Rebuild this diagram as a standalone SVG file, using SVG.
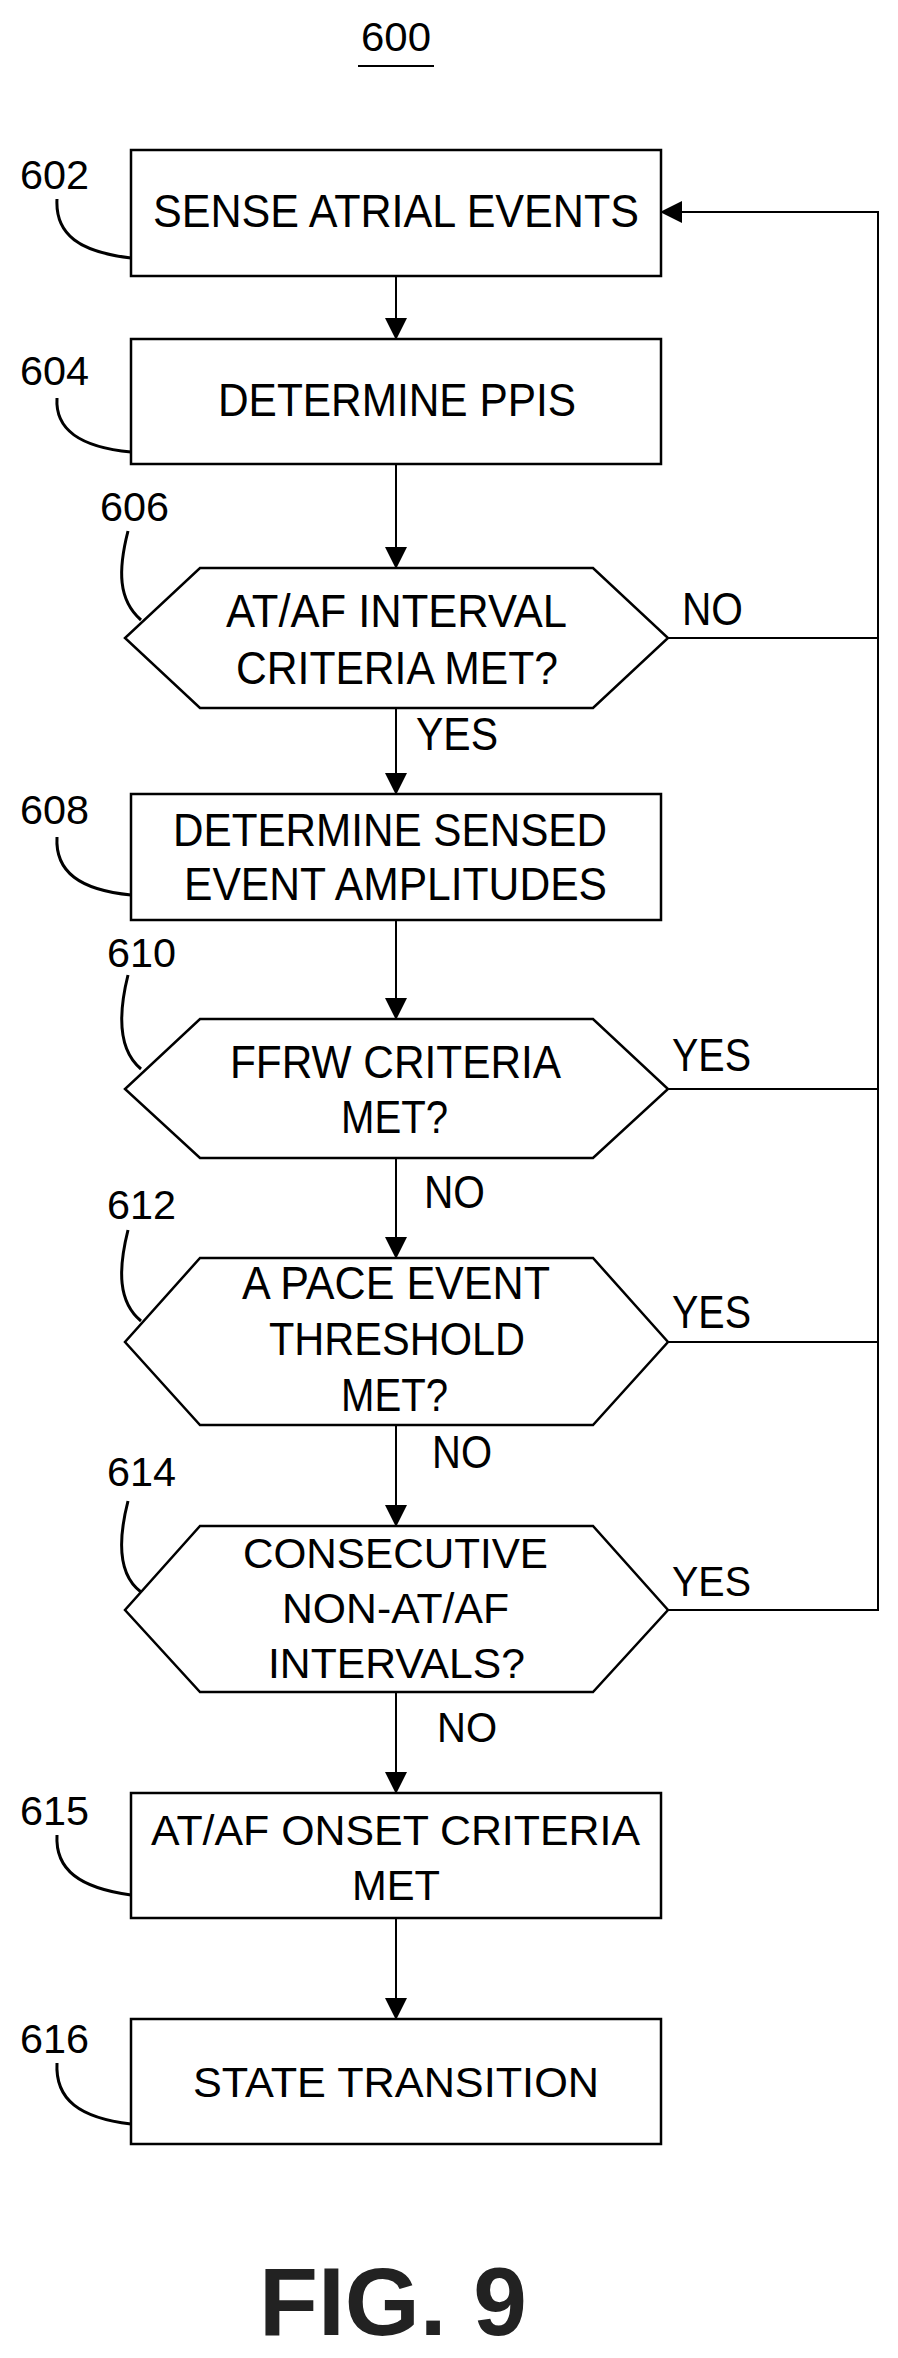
<svg xmlns="http://www.w3.org/2000/svg" width="898" height="2358" viewBox="0 0 898 2358">
<style>
.s{fill:#fff;stroke:#000;stroke-width:2.5}
.c{fill:none;stroke:#000;stroke-width:2}
.l{fill:none;stroke:#000;stroke-width:3}
text{font-family:"Liberation Sans",Arial,sans-serif;fill:#000}
.t{font-size:46px}
.u{font-size:43px}
.n{font-size:40px}
.m{text-anchor:middle}
</style>
<defs><marker id="a" markerWidth="22" markerHeight="22" refX="20" refY="11" orient="auto" markerUnits="userSpaceOnUse"><path d="M0,0 L22,11 L0,22 Z" fill="#000"/></marker></defs>
<rect width="898" height="2358" fill="#fff"/>
<text x="396" y="51" class="n m" textLength="70" lengthAdjust="spacingAndGlyphs">600</text>
<line x1="358" y1="66" x2="434" y2="66" stroke="#000" stroke-width="2"/>
<g id="connectors">
<line class="c" x1="396" y1="276" x2="396" y2="338" marker-end="url(#a)"/>
<line class="c" x1="396" y1="464" x2="396" y2="567" marker-end="url(#a)"/>
<line class="c" x1="396" y1="708" x2="396" y2="793" marker-end="url(#a)"/>
<line class="c" x1="396" y1="920" x2="396" y2="1018" marker-end="url(#a)"/>
<line class="c" x1="396" y1="1158" x2="396" y2="1257" marker-end="url(#a)"/>
<line class="c" x1="396" y1="1425" x2="396" y2="1525" marker-end="url(#a)"/>
<line class="c" x1="396" y1="1692" x2="396" y2="1792" marker-end="url(#a)"/>
<line class="c" x1="396" y1="1918" x2="396" y2="2018" marker-end="url(#a)"/>
<polyline class="c" points="668,638 878,638"/>
<polyline class="c" points="668,1089 878,1089"/>
<polyline class="c" points="668,1342 878,1342"/>
<polyline class="c" points="668,1610 878,1610 878,212 662,212" marker-end="url(#a)"/>
<text class="t" x="682" y="625" textLength="61" lengthAdjust="spacingAndGlyphs">NO</text>
<text class="t" x="416" y="750" textLength="82" lengthAdjust="spacingAndGlyphs">YES</text>
<text class="t" x="672" y="1071" textLength="79" lengthAdjust="spacingAndGlyphs">YES</text>
<text class="t" x="424" y="1208" textLength="61" lengthAdjust="spacingAndGlyphs">NO</text>
<text class="t" x="672" y="1328" textLength="79" lengthAdjust="spacingAndGlyphs">YES</text>
<text class="t" x="432" y="1468" textLength="60" lengthAdjust="spacingAndGlyphs">NO</text>
<text class="u" x="672" y="1596" textLength="79" lengthAdjust="spacingAndGlyphs">YES</text>
<text class="u" x="437" y="1742" textLength="60" lengthAdjust="spacingAndGlyphs">NO</text>
</g>
<g id="n602">
<rect class="s" x="131" y="150" width="530" height="126"/>
<text class="t" x="153" y="227" textLength="486" lengthAdjust="spacingAndGlyphs">SENSE ATRIAL EVENTS</text>
<text class="n" x="20" y="189" textLength="69" lengthAdjust="spacingAndGlyphs">602</text>
<path class="l" d="M57,199 C55,235 80,252 131,258"/>
</g>
<g id="n604">
<rect class="s" x="131" y="339" width="530" height="125"/>
<text class="t" x="218" y="416" textLength="358" lengthAdjust="spacingAndGlyphs">DETERMINE PPIS</text>
<text class="n" x="20" y="385" textLength="69" lengthAdjust="spacingAndGlyphs">604</text>
<path class="l" d="M57,398 C55,430 80,447 131,452"/>
</g>
<g id="n606">
<polygon class="s" points="200,568 593,568 668,638 593,708 200,708 125,638"/>
<text class="t" x="226" y="627" textLength="341" lengthAdjust="spacingAndGlyphs">AT/AF INTERVAL</text>
<text class="t" x="236" y="684" textLength="322" lengthAdjust="spacingAndGlyphs">CRITERIA MET?</text>
<text class="n" x="100" y="521" textLength="69" lengthAdjust="spacingAndGlyphs">606</text>
<path class="l" d="M128,531 C118,570 118,600 141,620"/>
</g>
<g id="n608">
<rect class="s" x="131" y="794" width="530" height="126"/>
<text class="t" x="173" y="846" textLength="434" lengthAdjust="spacingAndGlyphs">DETERMINE SENSED</text>
<text class="t" x="184" y="900" textLength="423" lengthAdjust="spacingAndGlyphs">EVENT AMPLITUDES</text>
<text class="n" x="20" y="824" textLength="69" lengthAdjust="spacingAndGlyphs">608</text>
<path class="l" d="M57,837 C55,872 80,890 131,895"/>
</g>
<g id="n610">
<polygon class="s" points="200,1019 593,1019 668,1089 593,1158 200,1158 125,1089"/>
<text class="t" x="230" y="1078" textLength="331" lengthAdjust="spacingAndGlyphs">FFRW CRITERIA</text>
<text class="t" x="341" y="1133" textLength="107" lengthAdjust="spacingAndGlyphs">MET?</text>
<text class="n" x="107" y="967" textLength="69" lengthAdjust="spacingAndGlyphs">610</text>
<path class="l" d="M128,975 C118,1015 118,1050 141,1069"/>
</g>
<g id="n612">
<polygon class="s" points="200,1258 593,1258 668,1342 593,1425 200,1425 125,1342"/>
<text class="t" x="242" y="1299" textLength="308" lengthAdjust="spacingAndGlyphs">A PACE EVENT</text>
<text class="t" x="269" y="1355" textLength="256" lengthAdjust="spacingAndGlyphs">THRESHOLD</text>
<text class="t" x="341" y="1411" textLength="107" lengthAdjust="spacingAndGlyphs">MET?</text>
<text class="n" x="107" y="1219" textLength="69" lengthAdjust="spacingAndGlyphs">612</text>
<path class="l" d="M128,1230 C118,1270 118,1302 141,1321"/>
</g>
<g id="n614">
<polygon class="s" points="200,1526 593,1526 668,1610 593,1692 200,1692 125,1610"/>
<text class="u" x="243" y="1568" textLength="305" lengthAdjust="spacingAndGlyphs">CONSECUTIVE</text>
<text class="u" x="282" y="1623" textLength="227" lengthAdjust="spacingAndGlyphs">NON-AT/AF</text>
<text class="u" x="268" y="1678" textLength="257" lengthAdjust="spacingAndGlyphs">INTERVALS?</text>
<text class="n" x="107" y="1486" textLength="69" lengthAdjust="spacingAndGlyphs">614</text>
<path class="l" d="M128,1501 C118,1540 118,1575 141,1592"/>
</g>
<g id="n615">
<rect class="s" x="131" y="1793" width="530" height="125"/>
<text class="u" x="151" y="1845" textLength="489" lengthAdjust="spacingAndGlyphs">AT/AF ONSET CRITERIA</text>
<text class="u" x="352" y="1900" textLength="88" lengthAdjust="spacingAndGlyphs">MET</text>
<text class="n" x="20" y="1825" textLength="69" lengthAdjust="spacingAndGlyphs">615</text>
<path class="l" d="M57,1835 C55,1870 80,1888 131,1895"/>
</g>
<g id="n616">
<rect class="s" x="131" y="2019" width="530" height="125"/>
<text class="u" x="193" y="2097" textLength="406" lengthAdjust="spacingAndGlyphs">STATE TRANSITION</text>
<text class="n" x="20" y="2053" textLength="69" lengthAdjust="spacingAndGlyphs">616</text>
<path class="l" d="M57,2063 C55,2100 80,2118 131,2124"/>
</g>
<text x="259" y="2335" style="font-size:96px;font-weight:bold;fill:#222" textLength="268" lengthAdjust="spacingAndGlyphs">FIG. 9</text>
</svg>
